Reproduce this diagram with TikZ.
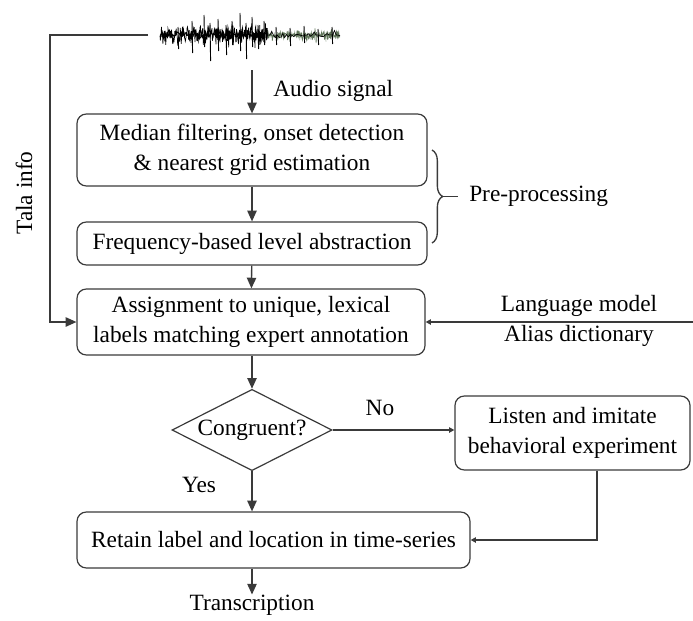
\documentclass[tikz,border=0pt]{standalone}
\usepackage{fontspec}
\setmainfont{Liberation Serif}
\usetikzlibrary{shapes.geometric,arrows.meta,decorations.pathreplacing}
\definecolor{ln}{HTML}{3A3A3A}
\definecolor{wavegreen}{HTML}{5E7458}
\tikzset{
  box/.style={draw=ln, line width=0.9pt, rounded corners=7pt, align=center, inner sep=0pt, text=black},
  bigarrow/.style={draw=ln, line width=1pt, -{Triangle[length=8pt,width=7pt]}},
  smallarrow/.style={draw=ln, line width=1pt, -{Triangle[length=4pt,width=4pt]}},
  plain/.style={draw=ln, line width=1pt},
  lbl/.style={inner sep=0pt, text=black}
}
\begin{document}
\begin{tikzpicture}[x=0.75pt,y=-0.75pt,font=\fontsize{17.5}{22.5}\selectfont]
\useasboundingbox (0,0) rectangle (693,621);
% waveform
\pgfmathsetseed{11}
\draw[black, line width=0.5pt] plot[samples=300, domain=160:268] (\x, {35 + 7*rand + 14*rand*rand*rand});
\draw[black, line width=0.8pt] plot[samples=120, domain=160:268] (\x, {35 + 3*rand});
\draw[wavegreen, line width=0.5pt] plot[samples=200, domain=268:340] (\x, {35 + 3*rand + 10*rand*rand*rand});
\draw[black, line width=0.5pt] plot[samples=40, domain=268:340] (\x, {35 + 7*rand*rand*rand});
\foreach \sx/\up/\dn in {178/8/14, 192/14/18, 204/20/12, 210/12/26, 218/16/16, 226/10/20, 232/14/10, 240/22/16, 246/12/24, 252/18/12, 258/10/14, 264/14/10, 276/8/10, 290/7/11, 304/9/8, 318/6/10, 332/8/9}
  \draw[black, line width=0.7pt] (\sx,35-\up) -- (\sx+0.6,35+\dn);
\coordinate (wavebot) at (252,70);
\coordinate (waveleft) at (148,35);
\coordinate (lmright) at (693,322);
% nodes
\node[box, minimum width=262.5pt, minimum height=54pt] (b1) at (252,150) {Median filtering, onset detection\\\& nearest grid estimation};
\node[box, minimum width=262.5pt, minimum height=32.25pt] (b2) at (252,243.5) {Frequency-based level abstraction};
\node[box, minimum width=261pt, minimum height=49.5pt] (b3) at (251,322) {Assignment to unique, lexical\\labels matching expert annotation};
\node[draw=ln, line width=0.9pt, diamond, shape aspect=2, inner sep=0pt, minimum width=120pt, minimum height=61pt] (d) at (252,430) {Congruent?};
\node[box, minimum width=176.25pt, minimum height=55.5pt] (b4) at (572.5,433) {Listen and imitate\\behavioral experiment};
\node[box, minimum width=294.75pt, minimum height=42pt] (b5) at (273.5,540) {Retain label and location in time-series};
\node[lbl, anchor=west] (audio) at (273,91) {Audio signal};
\node[lbl, anchor=west] (pre) at (469,196) {Pre-processing};
\node[lbl, align=center] (lm) at (579,321) {Language model\\Alias dictionary};
\node[lbl] (no) at (380,408) {No};
\node[lbl] (yes) at (199,485) {Yes};
\node[lbl] (trans) at (252,605) {Transcription};
\node[lbl, rotate=90] (tala) at (24,193) {Tala info};
% connectors
\draw[bigarrow] (wavebot) -- (b1);
\draw[bigarrow] (b1) -- (b2);
\draw[bigarrow] (b2) -- (b3);
\draw[bigarrow] (b3.south -| d.north) -- (d.north);
\draw[bigarrow] (d.south) -- (d.south |- b5.north);
\draw[bigarrow] (b5.south -| trans.north) -- (trans.north);
\draw[bigarrow] (waveleft) -- (50,35) -- (50,322) -- (b3.west);
\draw[smallarrow] (lmright) -- (b3.east);
\draw[smallarrow] (d.east) -- (d.east -| b4.west);
\draw[smallarrow] ([xshift=18.4pt]b4.south) |- (b5.east);
\draw[plain, decorate, decoration={brace, amplitude=8pt}] (432,150) -- (432,243);
\coordinate (bracetip) at (442.7,196.5);
\coordinate (dashend) at (458,196.5);
\draw[plain] (bracetip) -- (dashend);
\end{tikzpicture}
\end{document}
